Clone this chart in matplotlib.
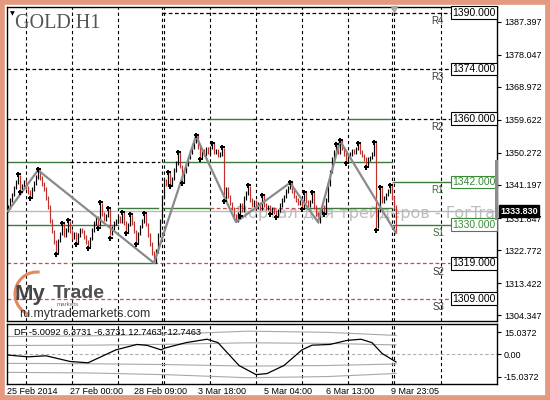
import matplotlib
matplotlib.use('Agg')
import matplotlib.pyplot as plt
from matplotlib.patches import Rectangle, Arc
from matplotlib.transforms import blended_transform_factory as blend

# ---------------- data ----------------
first_open = 1334.0
closes = [
    1335.0, 1337.0, 1338.5, 1340.5, 1342.0, 1343.5, 1340.2, 1341.0, 1342.0, 1340.5,
    1339.2, 1338.3, 1340.0, 1341.8, 1343.5, 1345.0, 1343.2, 1341.5, 1340.0, 1337.5,
    1335.0, 1331.0, 1328.0, 1325.0, 1322.5, 1325.5, 1327.5, 1329.8, 1327.0, 1328.5,
    1330.5, 1328.0, 1326.5, 1327.5, 1325.3, 1327.0, 1328.5, 1328.0, 1326.5, 1325.0,
    1324.0, 1326.0, 1328.5, 1330.5, 1332.0, 1330.0, 1335.5, 1333.0, 1331.5, 1332.5,
    1334.2, 1327.5, 1329.0, 1330.5, 1331.0, 1332.0, 1331.0, 1333.0, 1330.5, 1328.2,
    1330.0, 1332.4, 1330.5, 1328.0, 1325.2, 1327.5, 1329.5, 1331.0, 1332.7, 1330.0,
    1327.0, 1324.5, 1322.0, 1319.6, 1322.5, 1327.0, 1331.0, 1338.0, 1342.5, 1341.5,
    1344.3, 1341.5, 1343.0, 1345.5, 1347.5, 1350.0, 1346.5, 1342.6, 1345.0, 1347.0,
    1349.0, 1350.5, 1352.0, 1353.5, 1354.8, 1352.0, 1349.3, 1351.0, 1350.0, 1351.5,
    1350.5, 1351.8, 1352.5, 1350.5, 1351.0, 1349.5, 1350.0, 1351.3, 1337.2, 1340.0,
    1338.0, 1336.0, 1334.5, 1332.5, 1331.2, 1333.0, 1335.5, 1334.0, 1337.5, 1339.0,
    1340.5, 1337.0, 1335.5, 1336.5, 1335.0, 1336.0, 1334.5, 1337.8, 1335.5, 1334.5,
    1335.0, 1333.7, 1334.5, 1333.5, 1332.8, 1334.0, 1335.5, 1337.0, 1338.0, 1339.5,
    1340.5, 1341.5, 1339.5, 1338.0, 1337.0, 1336.0, 1336.5, 1335.0, 1338.6, 1336.5,
    1335.5, 1336.5, 1338.6, 1335.0, 1333.0, 1331.0, 1333.5, 1335.0, 1333.8, 1337.0,
    1341.5, 1345.0, 1348.5, 1350.5, 1352.2, 1350.5, 1353.4, 1351.5, 1350.0, 1348.0,
    1349.5, 1350.0, 1351.0, 1350.5, 1351.5, 1352.5, 1350.5, 1349.5, 1348.5, 1347.0,
    1348.5, 1349.0, 1350.0, 1352.8, 1329.5, 1334.0, 1340.0, 1336.5, 1337.5, 1338.5,
    1339.5, 1340.6, 1337.5, 1335.0, 1333.83,
]
last_low = 1327.6
bid = 1333.83

frac_up_idx = [5, 15, 27, 30, 46, 50, 57, 61, 68, 80, 85, 94, 102, 107, 120, 127,
               141, 148, 152, 164, 166, 175, 183, 186, 191]
frac_up_val = [1344.0, 1345.4, 1330.2, 1331.0, 1336.1, 1334.4, 1333.3, 1332.7, 1333.0,
               1344.6, 1350.3, 1355.1, 1352.8, 1351.7, 1340.9, 1338.1, 1341.8, 1338.9,
               1338.9, 1352.5, 1353.7, 1352.8, 1353.1, 1340.3, 1340.9]
frac_dn_idx = [6, 11, 24, 34, 40, 45, 51, 59, 64, 81, 87, 96, 108, 116, 131, 134,
               147, 158, 169, 179, 184]
frac_dn_val = [1339.5, 1337.8, 1321.9, 1324.8, 1323.6, 1329.3, 1326.5, 1327.9, 1324.8,
               1341.2, 1342.0, 1348.8, 1336.9, 1332.7, 1333.3, 1332.5, 1334.7, 1333.3,
               1347.7, 1346.6, 1328.7]

zz_idx = [0, 15, 73, 94, 114, 141, 155, 166, 194]
zz_val = [1333.8, 1345.4, 1319.1, 1355.1, 1330.7, 1341.8, 1330.7, 1353.7, 1327.6]

# horizontal pivot segments: price, start bar, end bar, kind
seg_price = [1390, 1374, 1360, 1360, 1360, 1360, 1360, 1347.7, 1347.7, 1347.7,
             1342, 1334.7, 1334.7, 1334.7, 1334.7, 1330, 1330, 1319, 1319, 1319, 1309]
seg_start = [77, -0.5, -0.5, 101, 122.5, 169.5, 192, -0.5, 31, 77.5,
             192.5, 55, 77.5, 101, 147, -0.5, 192.5, -0.5, 32, 76, -0.5]
seg_end = [221, 221, 101, 122.5, 169.5, 192, 221, 31, 76, 192,
           221, 75, 101, 147, 192, 55, 221, 31, 74.5, 221, 221]
seg_kind = ['R', 'R', 'R', 'P', 'R', 'P', 'R', 'P', 'R', 'P',
            'P', 'P', 'P', 'S', 'P', 'P', 'P', 'S', 'P', 'S', 'S']

levels = [1390, 1374, 1360, 1342, 1330, 1319, 1309]
level_names = ['R4', 'R3', 'R2', 'R1', 'S1', 'S2', 'S3']
level_kind = ['R', 'R', 'R', 'P', 'P', 'S', 'S']

price_ticks = [1387.397, 1378.047, 1368.972, 1359.622, 1350.272, 1341.197,
               1331.847, 1322.772, 1313.422, 1304.347]

grid_idx = [9, 32, 55, 77, 78, 101, 124, 147, 170, 192, 193, 216.5]

date_idx = [-0.5, 31, 63, 95, 128, 159, 191.5]
date_labels = ['25 Feb 2014', '27 Feb 00:00', '28 Feb 09:00', '3 Mar 18:00',
               '5 Mar 04:00', '6 Mar 13:00', '9 Mar 23:05']

df_idx = [0, 10, 19, 31, 40, 54, 64.5, 69.5, 76.5, 78.5, 89, 99.5, 105, 115.5,
          124, 129.5, 138, 147, 152, 161, 169.5, 176.5, 182, 187, 194]
df_val = [-0.4, -1.6, -0.9, -4.7, -5.6, 3.1, 6.7, 6.1, 3.1, 4.3, 7.9, 10.2, 7.9,
          -7.4, -13.5, -12.8, -7.4, 3.1, 6.2, 6.7, 9.4, 10.2, 7.9, 0.7, -5.0092]
band_idx = [0, 40, 80, 120, 160, 194]
band_sd = [6.0, 6.2, 6.8, 7.8, 7.4, 6.3731]
df_ticks = [15.0372, 0.0, -15.0372]

# ---------------- figure ----------------
W, H = 550, 400
fig = plt.figure(figsize=(5.5, 4), dpi=100)
fig.patch.set_facecolor('white')
FONT = 'Liberation Sans'

def fx(px):
    return px / W

def fy(py):
    return 1 - py / H

ax = fig.add_axes([fx(7), fy(321), 490 / W, 314 / H])
ax2 = fig.add_axes([fx(7), fy(384), 490 / W, 60 / H])

XL = (-0.5, 244.5)
ax.set_xlim(*XL)
ax.set_ylim(1302.67, 1391.62)
ax2.set_xlim(*XL)
ax2.set_ylim(-19.8, 20.4)

styles = {
    'R': dict(color='black', lw=0.9, ls=(0, (3, 2))),
    'P': dict(color='#3b7a3b', lw=1.0, ls='-'),
    'S': dict(color='#c0504d', lw=0.9, ls=(0, (3, 2))),
}
text_col = {'R': '#3c3c3c', 'P': '#3b6e3b', 'S': '#3c3c3c'}
box_col = {'R': 'black', 'P': '#3b8a3b', 'S': 'black'}

for a in (ax, ax2):
    a.set_facecolor('white')
    for s in a.spines.values():
        s.set_color('black')
        s.set_linewidth(1.0)
    a.set_xticks([])
    a.yaxis.tick_right()
    a.tick_params(axis='y', length=3, width=0.8, pad=2, labelsize=6.5,
                  colors='black', direction='out')
    for g in grid_idx:
        a.axvline(g, color='black', lw=0.8, ls=(0, (3, 2.5)), zorder=1)

# watermark
ax.text(114, 1333.2, 'Портал для трейдеров - ForTrader', fontsize=11.5,
        family='DejaVu Sans', color='#bcbcbc', ha='left', va='center',
        zorder=0.5, clip_on=True)

# pivot segments
for p, s0, s1, k in zip(seg_price, seg_start, seg_end, seg_kind):
    ax.plot([s0, s1], [p, p], zorder=1.5, **styles[k])

# bid line
ax.axhline(bid, color='#b8b8b8', lw=1.0, zorder=1.6)

# bars
opens = [first_open] + closes[:-1]
for i, (o, c) in enumerate(zip(opens, closes)):
    hi = max(o, c) + 0.5
    lo = min(o, c) - 0.5
    if i == len(closes) - 1:
        lo = last_low
    col = 'black' if c >= o else '#c0302a'
    ax.vlines(i, lo, hi, color=col, lw=0.85, zorder=2)

# zigzag
ax.plot(zz_idx, zz_val, color='#8a8a8a', lw=1.6, zorder=3)

# fractals
ax.plot(frac_up_idx, [v + 0.3 for v in frac_up_val], ls='none', marker='P',
        ms=3.6, color='black', mew=0, zorder=4)
ax.plot(frac_dn_idx, [v - 0.3 for v in frac_dn_val], ls='none', marker='P',
        ms=3.6, color='black', mew=0, zorder=4)

# level names and price boxes
for p, n, k in zip(levels, level_names, level_kind):
    ax.text(218, p - 0.9, n, ha='right', va='top', fontsize=7,
            family=FONT, color=text_col[k], zorder=5)
    ax.text(222.2, p, f'{p:.3f}', ha='left', va='center', fontsize=7.5,
            family=FONT, color=box_col[k], zorder=6,
            bbox=dict(boxstyle='square,pad=0.12', fc='white', ec=box_col[k], lw=0.8))

ax.set_yticks(price_ticks)
ax.set_yticklabels([f'{t:.3f}' for t in price_ticks], family=FONT)

# current price label
tr = blend(ax.transAxes, ax.transData)
ax.text(1.006, bid, f'{bid:.3f}', transform=tr, ha='left', va='center',
        fontsize=6.5, family=FONT, color='white', fontweight='bold', zorder=10,
        clip_on=False,
        bbox=dict(boxstyle='square,pad=0.15', fc='black', ec='black'))

# gray bar at the axis
fig.add_artist(Rectangle((fx(495), fy(220)), 3 / W, 60 / H, transform=fig.transFigure,
                         fc='#8c8c8c', ec='none', zorder=20))
# shift marker
ax.plot([193], [1391.1], marker='v', ms=5, color='#a8a8a8', ls='none', clip_on=False, zorder=6)

# title
fig.text(fx(15), fy(28), 'GOLD H1', family='Liberation Serif', fontsize=14.5,
         color='#555555', ha='left', va='baseline')
fig.text(fx(12), fy(14), '\u25BC', fontsize=4.5, color='black', ha='center', va='center',
         family='DejaVu Sans')

# logo
fig.add_artist(Arc((fx(37), fy(294)), 2 * 22 / W, 2 * 22 / H, theta1=85, theta2=255,
                   transform=fig.transFigure, color='#e3875f', lw=2.2))
fig.text(fx(15), fy(300), 'My', family=FONT, fontweight='bold', fontsize=16,
         color='#474747', ha='left', va='baseline')
fig.text(fx(53), fy(298.5), 'Trade', family=FONT, fontweight='bold', fontsize=14,
         color='#505050', ha='left', va='baseline')
fig.text(fx(57), fy(306.5), 'markets', family=FONT, fontsize=4.5, color='#6a6a6a',
         ha='left', va='baseline')
fig.text(fx(19), fy(314.5), 'ru.mytrademarkets.com', family=FONT, fontsize=9,
         color='#333333', ha='left', va='center')

# indicator
ax2.axhline(0, color='#b0b0b0', lw=0.8, ls=(0, (3, 2)))
for m in (1, 2):
    ax2.plot(band_idx, [m * s for s in band_sd], color='#a8a8a8', lw=0.8)
    ax2.plot(band_idx, [-m * s for s in band_sd], color='#a8a8a8', lw=0.8)
ax2.plot(df_idx, df_val, color='black', lw=0.9, zorder=3)
ax2.set_yticks(df_ticks)
ax2.set_yticklabels(['15.0372', '0.00', '-15.0372'], family=FONT)
ax2.text(3, 15.0, 'DF -5.0092 6.3731 -6.3731 12.7463 -12.7463', fontsize=6.7,
         family=FONT, ha='left', va='center', color='black')

trx = ax2.get_xaxis_transform()
for i, lab in zip(date_idx, date_labels):
    ax2.text(i, -8 / 60, lab, transform=trx, ha='left', va='center', fontsize=6.5,
             family=FONT, color='black', clip_on=False)

# outer frame
fig.add_artist(Rectangle((0, 0), 1, 1, transform=fig.transFigure, fill=False,
                         ec='#e39a80', lw=7, zorder=30))

fig.savefig('out.png', dpi=100, facecolor='white')
